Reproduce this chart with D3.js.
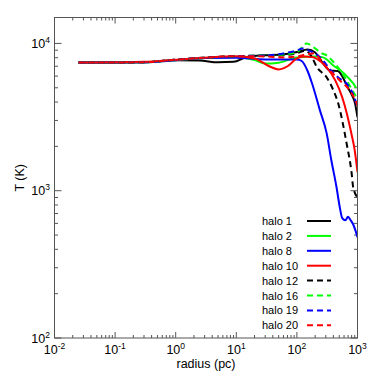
<!DOCTYPE html>
<html>
<head>
<meta charset="utf-8">
<script src="https://cdn.jsdelivr.net/npm/d3@7"></script>
<style>
  body { margin: 0; background: #fff; }
  svg { display: block; font-family: "Liberation Sans", Arial, sans-serif; }
</style>
</head>
<body>
<div id="chart"></div>
<script>
// temperature profiles, [radius (pc), T (K)]
var halo1 = [[0.025,7430],[0.1,7430],[0.3,7460],[1,7700],[2.5,7650],[5,7450],[9,7500],[15,8100],[30,8300],[60,8420],[100,8750],[150,9110],[200,8690],[270,7310],[350,6560],[470,6500],[560,6000],[660,5200],[800,4500],[900,4000],[1000,3150]];
var halo2 = [[0.025,7430],[0.1,7430],[0.3,7460],[1,7700],[3,7950],[10,8100],[20,7700],[30,7300],[50,7400],[100,8040],[200,8160],[270,8040],[400,7090],[600,6260],[850,5350],[950,5000]];
var halo8 = [[0.025,7430],[0.1,7430],[0.3,7460],[1,7700],[3,7950],[10,8000],[30,7790],[100,7790],[120,7600],[150,6500],[178,5350],[240,3510],[310,2450],[370,1610],[450,1060],[510,773],[560,651],[630,630],[700,665],[770,630],[850,590],[1000,484]];
var halo10 = [[0.025,7430],[0.1,7450],[0.3,7500],[1,7750],[3,8000],[10,8200],[20,7910],[35,7000],[50,6660],[70,7000],[100,7910],[130,8150],[180,8100],[250,7500],[310,6870],[430,5610],[560,4300],[660,3400],[800,2400],[900,1880],[1000,1335]];
var halo12 = [[0.025,7430],[0.1,7430],[0.3,7460],[1,7750],[3,8000],[10,8200],[30,8250],[60,8300],[100,8600],[140,8900],[170,8300],[215,6870],[310,5880],[400,4800],[480,3920],[660,2100],[800,1315],[850,1050],[1000,904]];
var halo16 = [[0.025,7430],[0.1,7430],[0.3,7460],[1,7750],[3,8000],[10,8200],[30,8300],[60,8420],[100,8700],[145,10000],[200,9250],[260,8550],[310,8290],[400,7500],[600,6000],[800,4900],[1000,4200]];
var halo19 = [[0.025,7430],[0.1,7430],[0.3,7460],[1,7750],[3,8000],[10,8200],[30,8290],[60,8550],[100,8970],[125,9250],[155,8970],[270,7670],[330,6870],[480,5880],[700,5190],[850,4500],[1000,3680]];
var halo20 = [[0.025,7430],[0.1,7430],[0.3,7460],[1,7750],[3,8000],[10,8200],[30,8160],[60,8040],[100,8160],[185,8550],[310,6870],[510,5610],[700,4950],[850,4400],[1000,3800]];

var series = [
  {name: "halo 1",  data: halo1,  color: "#000000", dash: null},
  {name: "halo 2",  data: halo2,  color: "#00ff00", dash: null},
  {name: "halo 8",  data: halo8,  color: "#0000ff", dash: null},
  {name: "halo 10", data: halo10, color: "#ff0000", dash: null},
  {name: "halo 12", data: halo12, color: "#000000", dash: "6,4"},
  {name: "halo 16", data: halo16, color: "#00ff00", dash: "6,4"},
  {name: "halo 19", data: halo19, color: "#0000ff", dash: "6,4"},
  {name: "halo 20", data: halo20, color: "#ff0000", dash: "6,4"}
];

var xTicks = [1e-2, 1e-1, 1e0, 1e1, 1e2, 1e3];
var xTickExp = ["-2", "-1", "0", "1", "2", "3"];
var yTicks = [1e2, 1e3, 1e4];
var yTickExp = ["2", "3", "4"];

var w = 374, h = 374;
var pLeft = 54.5, pRight = 357.5, pTop = 17.5, pBottom = 338;
var axisColor = "#555";

var svg = d3.select("#chart").append("svg").attr("width", w).attr("height", h);
svg.append("rect").attr("width", w).attr("height", h).attr("fill", "#fff");

var x = d3.scaleLog().domain([1e-2, 1e3]).range([pLeft, pRight]);
var y = d3.scaleLog().domain([100, 15000]).range([pBottom, pTop]);

/* minor ticks for a log axis */
function minors(lo, hi) {
    var out = [];
    for (var e = Math.floor(Math.log10(lo)); e <= Math.ceil(Math.log10(hi)); e++) {
        for (var k = 2; k <= 9; k++) {
            var v = k * Math.pow(10, e);
            if (v > lo && v < hi) out.push(v);
        }
    }
    return out;
}

var g = svg.append("g").attr("stroke", axisColor).attr("stroke-width", 1);

// x ticks, bottom and top, pointing inward
xTicks.forEach(function(t) {
    g.append("line").attr("x1", x(t)).attr("x2", x(t)).attr("y1", pBottom).attr("y2", pBottom - 6);
    g.append("line").attr("x1", x(t)).attr("x2", x(t)).attr("y1", pTop).attr("y2", pTop + 6);
});
minors(1e-2, 1e3).forEach(function(t) {
    g.append("line").attr("x1", x(t)).attr("x2", x(t)).attr("y1", pBottom).attr("y2", pBottom - 3);
    g.append("line").attr("x1", x(t)).attr("x2", x(t)).attr("y1", pTop).attr("y2", pTop + 3);
});
// y ticks, left and right
yTicks.forEach(function(t) {
    g.append("line").attr("y1", y(t)).attr("y2", y(t)).attr("x1", pLeft).attr("x2", pLeft + 7);
    g.append("line").attr("y1", y(t)).attr("y2", y(t)).attr("x1", pRight).attr("x2", pRight - 7);
});
minors(100, 15000).forEach(function(t) {
    g.append("line").attr("y1", y(t)).attr("y2", y(t)).attr("x1", pLeft).attr("x2", pLeft + 3.5);
    g.append("line").attr("y1", y(t)).attr("y2", y(t)).attr("x1", pRight).attr("x2", pRight - 3.5);
});

// curves
var line = d3.line()
    .x(function(d) { return x(d[0]); })
    .y(function(d) { return y(d[1]); })
    .curve(d3.curveMonotoneX);

svg.append("clipPath").attr("id", "clip").append("rect")
    .attr("x", pLeft).attr("y", pTop).attr("width", pRight - pLeft).attr("height", pBottom - pTop);
var plot = svg.append("g").attr("clip-path", "url(#clip)");

series.forEach(function(s) {
    plot.append("path")
        .datum(s.data)
        .attr("d", line)
        .attr("fill", "none")
        .attr("stroke", s.color)
        .attr("stroke-width", 2)
        .attr("stroke-dasharray", s.dash);
});

// frame
svg.append("rect")
    .attr("x", pLeft).attr("y", pTop).attr("width", pRight - pLeft).attr("height", pBottom - pTop)
    .attr("fill", "none").attr("stroke", axisColor).attr("stroke-width", 1);

// tick labels
xTicks.forEach(function(t, i) {
    var txt = svg.append("text")
        .attr("x", x(t)).attr("y", 354)
        .attr("text-anchor", "middle")
        .attr("font-size", 12.5).attr("fill", "#000");
    txt.append("tspan").text("10");
    txt.append("tspan").attr("dy", -5).attr("font-size", 8.5).text(xTickExp[i]);
});
yTicks.forEach(function(t, i) {
    var txt = svg.append("text")
        .attr("x", 50).attr("y", y(t) + 4.5)
        .attr("text-anchor", "end")
        .attr("font-size", 12.5).attr("fill", "#000");
    txt.append("tspan").text("10");
    txt.append("tspan").attr("dy", -5).attr("font-size", 8.5).text(yTickExp[i]);
});

// axis titles
svg.append("text")
    .attr("x", (pLeft + pRight) / 2).attr("y", 368)
    .attr("text-anchor", "middle").attr("font-size", 12.5)
    .text("radius (pc)");
svg.append("text")
    .attr("transform", "translate(24," + ((pTop + pBottom) / 2) + ") rotate(-90)")
    .attr("text-anchor", "middle").attr("font-size", 12.5)
    .text("T (K)");

// legend
var leg = svg.append("g");
series.forEach(function(s, i) {
    var ly = 221 + i * 14.9;
    leg.append("text")
        .attr("x", 262).attr("y", ly + 4)
        .attr("font-size", 11).attr("fill", "#000")
        .text(s.name);
    leg.append("line")
        .attr("x1", 307).attr("x2", 331).attr("y1", ly).attr("y2", ly)
        .attr("stroke", s.color).attr("stroke-width", 2)
        .attr("stroke-dasharray", s.dash);
});
</script>
</body>
</html>
